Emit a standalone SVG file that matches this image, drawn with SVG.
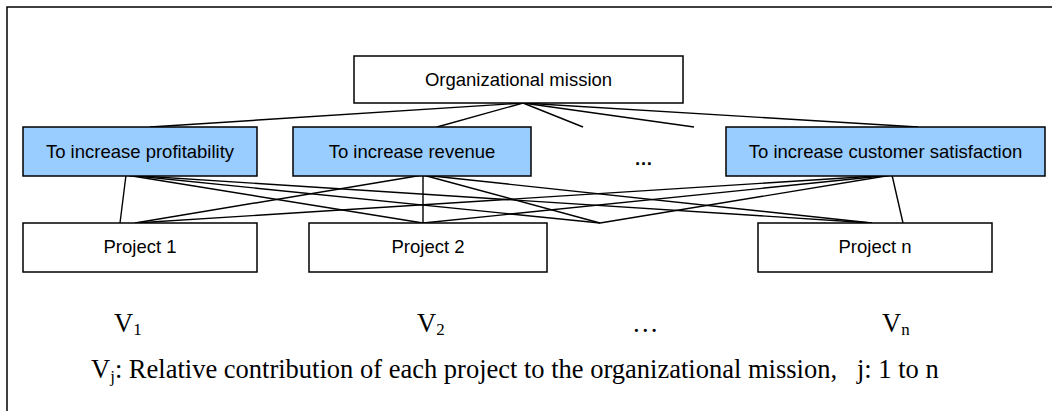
<svg xmlns="http://www.w3.org/2000/svg" width="1052" height="411" viewBox="0 0 1052 411">
<style>
.box{fill:#fff;stroke:#000;stroke-width:1.5}
.goal{fill:#99CCFF;stroke:#000;stroke-width:1.5}
.sans{font-family:"Liberation Sans",Arial,sans-serif;font-size:18.5px;fill:#000;text-anchor:middle}
.serif{font-family:"Liberation Serif","Times New Roman",serif;font-size:26.5px;fill:#000}
.sub{font-size:17px}
#connectors line{stroke:#000;stroke-width:1.4}
</style>
<rect width="1052" height="411" fill="#fff"/>
<path d="M7,411 V7 H1052" fill="none" stroke="#000" stroke-width="1.5"/>
<g id="connectors">
<line x1="523" y1="103" x2="150" y2="127"/>
<line x1="523" y1="103" x2="437" y2="127"/>
<line x1="523" y1="103" x2="583" y2="127"/>
<line x1="523" y1="103" x2="694" y2="127"/>
<line x1="523" y1="103" x2="918" y2="127"/>
<line x1="126" y1="175" x2="120" y2="223"/>
<line x1="126" y1="175" x2="423" y2="223"/>
<line x1="126" y1="175" x2="600" y2="223"/>
<line x1="126" y1="175" x2="872" y2="223"/>
<line x1="423" y1="175" x2="135" y2="223"/>
<line x1="423" y1="175" x2="423" y2="223"/>
<line x1="423" y1="175" x2="600" y2="223"/>
<line x1="423" y1="175" x2="872" y2="223"/>
<line x1="892" y1="175" x2="135" y2="223"/>
<line x1="892" y1="175" x2="423" y2="223"/>
<line x1="892" y1="175" x2="600" y2="223"/>
<line x1="892" y1="175" x2="903" y2="223"/>
</g>
<g id="mission">
<rect class="box" x="354" y="56" width="329" height="47"/>
<text class="sans" x="518.5" y="86">Organizational mission</text>
</g>
<g id="goal1">
<rect class="goal" x="23" y="127" width="234" height="49"/>
<text class="sans" x="140" y="157.5">To increase profitability</text>
</g>
<g id="goal2">
<rect class="goal" x="293" y="127" width="238" height="49"/>
<text class="sans" x="412" y="157.5">To increase revenue</text>
</g>
<g id="goal-dots">
<text class="sans" x="643.5" y="165" font-weight="bold" font-size="29">…</text>
</g>
<g id="goal3">
<rect class="goal" x="726" y="127" width="319" height="49"/>
<text class="sans" x="885.5" y="157.5">To increase customer satisfaction</text>
</g>
<g id="project1">
<rect class="box" x="23" y="223" width="234" height="49"/>
<text class="sans" x="140" y="252.5">Project 1</text>
</g>
<g id="project2">
<rect class="box" x="309" y="223" width="238" height="49"/>
<text class="sans" x="428" y="252.5">Project 2</text>
</g>
<g id="projectn">
<rect class="box" x="758" y="223" width="234" height="49"/>
<text class="sans" x="875" y="252.5">Project n</text>
</g>
<g id="values">
<text class="serif" x="114" y="332">V<tspan class="sub" dy="3">1</tspan></text>
<text class="serif" x="417" y="332">V<tspan class="sub" dy="3">2</tspan></text>
<text class="serif" x="632" y="332">…</text>
<text class="serif" x="882" y="332">V<tspan class="sub" dy="3">n</tspan></text>
</g>
<g id="caption">
<text class="serif" x="91" y="378" xml:space="preserve">V<tspan class="sub" dy="4">j</tspan><tspan dy="-4">: Relative contribution of each project to the organizational mission,   j: 1 to n</tspan></text>
</g>
</svg>
